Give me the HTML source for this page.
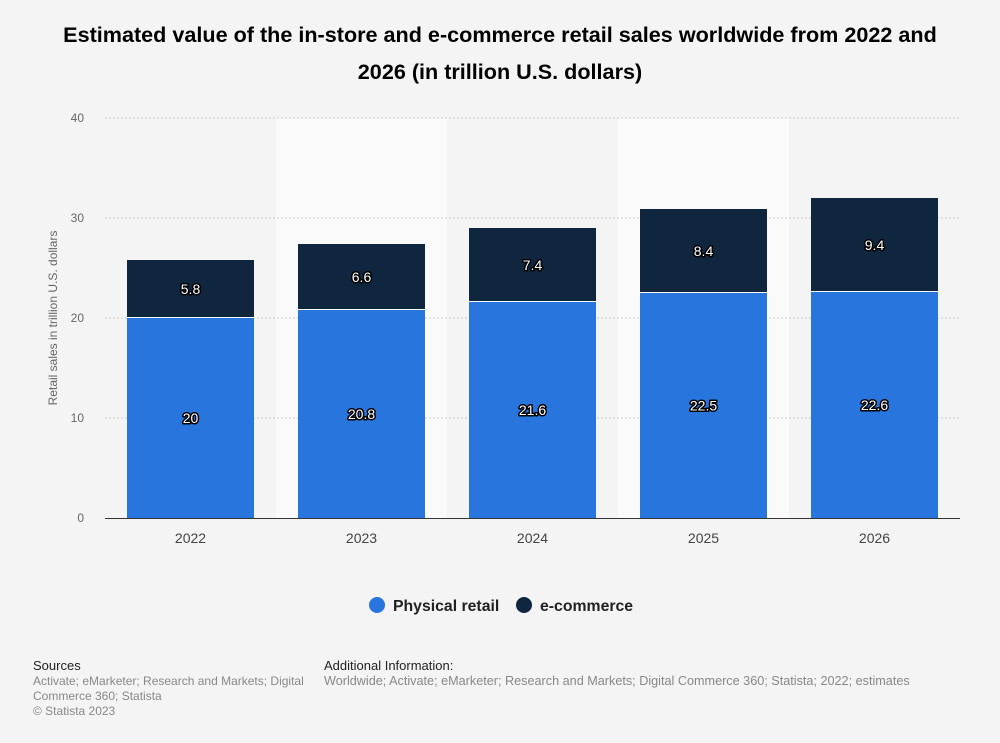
<!DOCTYPE html>
<html><head><meta charset="utf-8"><style>
body{margin:0;background:#f4f4f4;font-family:"Liberation Sans",sans-serif;}
#wrap{position:relative;width:1000px;height:743px;overflow:hidden}
.t{position:absolute;left:0;width:1000px;text-align:center;font-weight:bold;font-size:21.6px;color:#000;line-height:37px;top:16px}
.small{position:absolute;font-size:12px;color:#888;line-height:15px}
.h{color:#222;font-size:13px}
</style></head><body><div id="wrap">
<div class="t">Estimated value of the in-store and e-commerce retail sales worldwide from 2022 and<br>2026 (in trillion U.S. dollars)</div>
<svg id="c" width="1000" height="743" style="position:absolute;left:0;top:0"></svg>
<div class="small" style="left:33px;top:658px"><span class="h">Sources</span><br>Activate; eMarketer; Research and Markets; Digital<br>Commerce 360; Statista<br>© Statista 2023</div>
<div class="small" style="left:324px;top:658px;font-size:12.65px"><span class="h">Additional Information:</span><br>Worldwide; Activate; eMarketer; Research and Markets; Digital Commerce 360; Statista; 2022; estimates</div>
</div>
<script>
const categories=["2022","2023","2024","2025","2026"];
const physical=[20,20.8,21.6,22.5,22.6];
const ecommerce=[5.8,6.6,7.4,8.4,9.4];
const ticks=[0,10,20,30,40];
const NS="http://www.w3.org/2000/svg";
const svg=document.getElementById('c');
const x0=105,x1=960,y0=518,yTop=118,yMax=40;
const bw=(x1-x0)/categories.length;
const y=v=>y0-(v/yMax)*(y0-yTop);
const xc=i=>x0+bw*(i+0.5);
function mk(t,a){const e=document.createElementNS(NS,t);for(const k in a)e.setAttribute(k,a[k]);svg.appendChild(e);return e;}
categories.forEach((c,i)=>{if(i%2==1){const r=mk('rect',{x:x0+bw*i,y:yTop,width:bw,height:y0-yTop,fill:'#fafafa'});

}});
ticks.forEach(t=>{if(t>0){const l=mk('line',{x1:x0,x2:x1,y1:y(t),y2:y(t),stroke:'#ccc','stroke-dasharray':'2,2'});

}
const tx=mk('text',{x:84,y:y(t)+4,'text-anchor':'end','font-size':12,fill:'#666'});tx.textContent=t;

});
const yt=mk('text',{x:0,y:0,transform:'translate(57,318) rotate(-90)','text-anchor':'middle','font-size':12,fill:'#666'});yt.textContent='Retail sales in trillion U.S. dollars';


const lab=(x,yy,s)=>{const t=mk('text',{x:x,y:yy,'text-anchor':'middle','font-size':14,fill:'#fff',stroke:'#000','stroke-width':3,'paint-order':'stroke','stroke-linejoin':'round'});t.textContent=s;return t;};
categories.forEach((c,i)=>{const w=127,bx=xc(i)-w/2;
const p=mk('rect',{x:bx,y:y(physical[i]),width:w,height:y0-y(physical[i]),fill:'#2876dd'});


const top=physical[i]+ecommerce[i];
const e=mk('rect',{x:bx,y:y(top),width:w,height:y(physical[i])-y(top)-1,fill:'#10263e'});


mk('line',{x1:bx,x2:bx+w,y1:y(physical[i])-0.5,y2:y(physical[i])-0.5,stroke:'#fff'});
const l1=lab(xc(i),(y0+y(physical[i]))/2+5,String(physical[i]));


const l2=lab(xc(i),(y(physical[i])+y(top))/2+5,String(ecommerce[i]));


const xt=mk('text',{x:xc(i),y:543,'text-anchor':'middle','font-size':14,fill:'#444'});xt.textContent=c;

});
const ax=mk('line',{x1:x0,x2:x1,y1:y0+0.5,y2:y0+0.5,stroke:'#333'});


[[377,'#2876dd','Physical retail',393],[524,'#10263e','e-commerce',540]].forEach(([cx,col,s,tx],k)=>{
const g=mk('circle',{cx:cx,cy:605,r:8,fill:col});


const t=mk('text',{x:tx,y:611,'font-size':15.8,'font-weight':'bold',fill:'#222'});t.textContent=s;

});
</script></body></html>
